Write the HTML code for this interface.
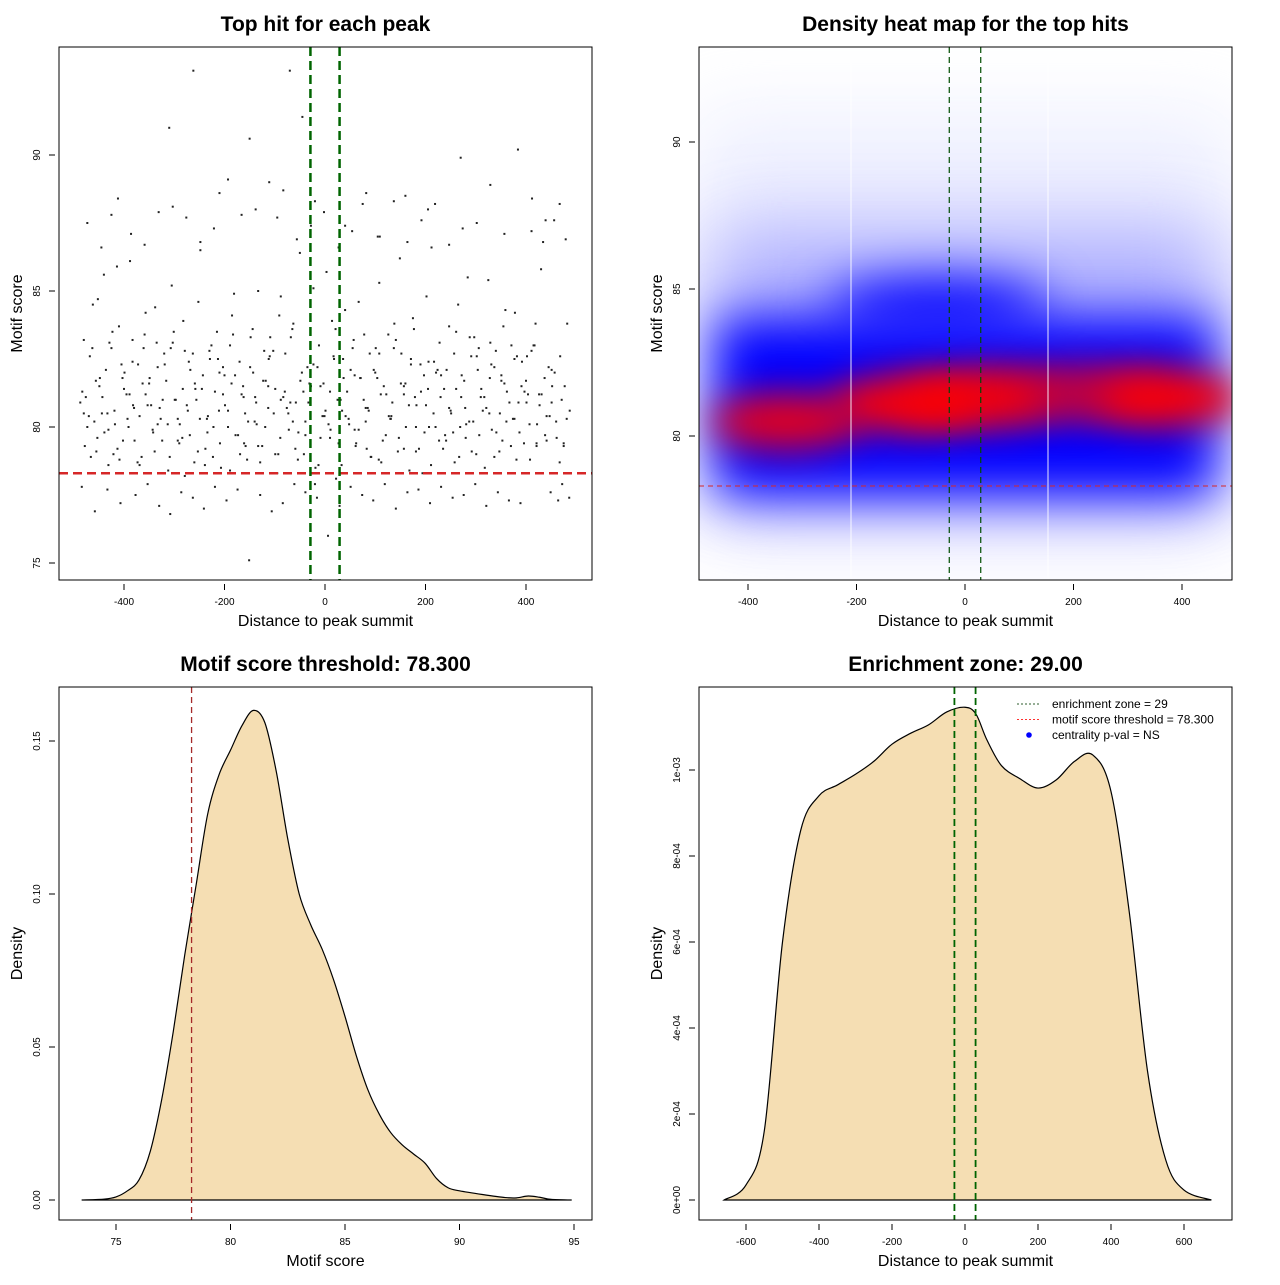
<!DOCTYPE html>
<html><head><meta charset="utf-8">
<style>
html,body{margin:0;padding:0;background:#fff;}
svg text{font-family:"Liberation Sans",Arial,sans-serif;}
</style></head>
<body>
<svg id="root" width="1280" height="1280" viewBox="0 0 1280 1280" xmlns="http://www.w3.org/2000/svg">
<defs>
<filter id="b40" filterUnits="userSpaceOnUse" x="500" y="-200" width="900" height="1000"><feGaussianBlur stdDeviation="40"/></filter>
<filter id="b25" filterUnits="userSpaceOnUse" x="500" y="-200" width="900" height="1000"><feGaussianBlur stdDeviation="25"/></filter>
<filter id="b18" filterUnits="userSpaceOnUse" x="500" y="-200" width="900" height="1000"><feGaussianBlur stdDeviation="18"/></filter>
<clipPath id="c2"><rect x="699" y="47" width="533" height="533"/></clipPath>
</defs>
</svg>
<script>
// ---------- DATA ----------
const scatterX=[-480,-470,-462,-455,-448,-440,-431,-425,-418,-410,-402,-395,-388,-380,-372,-365,-357,-350,-342,-335,-327,-320,-312,-305,-297,-290,-282,-275,-268,-260,-252,-245,-238,-230,-222,-215,-207,-200,-193,-185,-178,-170,-162,-155,-148,-140,-133,-125,-118,-110,-102,-95,-88,-80,-72,-65,-58,-50,-42,-35,-28,-20,-12,-5,3,10,18,25,33,40,48,55,62,70,78,85,92,100,108,115,122,130,138,145,152,160,168,175,182,190,198,205,212,220,228,235,242,250,258,265,272,280,288,295,302,310,318,325,332,340,348,355,362,370,378,385,392,400,408,415,422,430,438,445,452,460,468,475,482,
-476,-466,-452,-444,-436,-421,-414,-400,-391,-383,-369,-361,-346,-338,-324,-316,-301,-293,-279,-271,-256,-248,-234,-226,-211,-203,-189,-181,-166,-158,-144,-136,-121,-113,-99,-91,-76,-68,-54,-46,-31,-23,-9,-1,14,22,36,44,59,67,81,89,104,112,126,134,149,157,171,179,194,202,216,224,239,247,261,269,284,292,306,314,329,337,351,359,374,382,396,404,419,427,441,449,464,472,486,
-484,-458,-433,-407,-377,-353,-330,-308,-286,-263,-241,-219,-196,-174,-151,-129,-106,-84,-61,-39,-16,6,29,51,74,96,119,141,164,186,209,231,254,276,299,321,344,366,389,411,434,456,479,
-473,-445,-412,-386,-359,-331,-303,-276,-248,-221,-193,-166,-138,-111,-83,-56,-28,-2,27,54,82,109,137,164,192,219,247,274,302,329,357,384,412,439,467,
-425,-310,-262,-210,-150,-95,-70,-45,-20,40,75,105,160,205,270,330,390,415,455];
const scatterY=[83.2,80.4,84.5,79.1,81.8,85.6,78.6,82.9,80.1,83.7,79.5,81.2,86.1,80.7,82.3,78.9,84.2,81.6,79.8,83.1,80.3,82.7,78.4,85.2,81.0,79.4,83.9,80.8,82.1,78.7,84.6,81.4,79.2,82.8,80.0,83.5,78.5,81.9,80.6,84.1,79.7,82.4,81.1,78.8,83.3,80.2,85.0,79.3,81.7,82.6,80.5,78.3,84.8,81.3,79.9,83.6,80.9,86.4,79.0,82.2,81.5,77.9,83.0,80.4,85.7,79.6,82.5,81.0,78.6,84.3,80.1,82.9,79.4,81.8,83.4,80.7,78.9,82.0,85.3,79.5,81.2,80.3,83.8,79.1,82.7,81.6,78.4,84.0,80.8,82.3,79.8,81.4,86.6,80.0,83.1,79.2,82.1,80.6,78.7,84.5,81.9,79.6,83.3,80.2,82.6,81.1,78.5,85.4,79.9,82.8,80.5,83.7,81.3,79.3,84.2,80.9,82.4,81.7,78.8,83.0,80.1,85.8,79.7,82.2,81.5,
80.2,82.6,79.4,83.8,81.1,78.9,84.7,80.5,82.1,79.0,85.9,81.4,80.0,83.2,78.6,82.9,80.8,84.4,79.5,81.7,83.5,80.3,78.2,82.4,81.0,86.8,79.8,83.0,80.6,82.2,78.4,84.9,81.2,79.3,83.6,80.1,82.8,81.5,79.0,84.1,80.7,83.3,78.8,82.0,81.6,85.1,79.6,80.4,83.9,78.1,82.5,81.3,79.9,84.6,80.2,82.7,81.8,78.7,83.4,80.9,86.2,79.2,82.3,81.1,78.3,84.8,80.5,82.1,79.7,83.7,81.4,80.0,85.5,79.1,82.9,80.6,83.1,78.9,81.9,84.3,80.3,82.6,79.4,81.2,83.8,80.8,79.5,
77.6,77.3,77.9,77.4,77.8,76.9,77.7,77.2,77.5,77.9,77.1,76.8,77.6,77.4,77.0,77.8,77.3,77.7,75.1,77.5,76.9,77.2,77.9,77.6,77.4,76.0,77.1,77.8,77.5,77.3,77.9,77.0,77.6,77.7,77.2,77.8,77.4,77.5,77.9,77.1,77.6,77.3,77.2,
87.2,86.8,87.6,86.9,87.5,86.6,88.4,87.1,86.7,87.9,88.1,87.7,86.5,87.3,89.1,87.8,88.0,89.0,88.7,86.9,87.4,87.9,86.6,87.2,88.6,87.0,88.3,86.8,87.6,88.2,86.7,87.3,87.5,88.9,87.1,
90.2,88.4,87.6,88.2,87.8,91.0,93.1,88.6,90.6,87.7,93.1,91.4,88.3,87.4,88.2,87.0,88.5,88.0,89.9];
const denseX=[-487,-478,-468,-459,-449,-439,-429,-419,-409,-399,-389,-379,-369,-359,-349,-339,-329,-319,-309,-299,-289,-279,-269,-259,-249,-239,-229,-219,-209,-199,-189,-179,-169,-159,-149,-139,-129,-119,-109,-99,-89,-79,-69,-59,-49,-39,-29,-19,-9,1,11,21,31,41,51,61,71,81,91,101,111,121,131,141,151,161,171,181,191,201,211,221,231,241,251,261,271,281,291,301,311,321,331,341,351,361,371,381,391,401,411,421,431,441,451,461,471,481,
-483,-473,-463,-453,-443,-433,-423,-413,-403,-393,-383,-373,-363,-353,-343,-333,-323,-313,-303,-293,-283,-273,-263,-253,-243,-233,-223,-213,-203,-193,-183,-173,-163,-153,-143,-133,-123,-113,-103,-93,-83,-73,-63,-53,-43,-33,-23,-13,-3,7,17,27,37,47,57,67,77,87,97,107,117,127,137,147,157,167,177,187,197,207,217,227,237,247,257,267,277,287,297,307,317,327,337,347,357,367,377,387,397,407,417,421,437,447,457,467,477,487,
-480,-456,-431,-405,-382,-357,-333,-307,-284,-258,-235,-210,-186,-161,-137,-112,-88,-64,-39,-15,10,34,59,83,108,132,157,181,206,230,255,279,304,328,353,377,402,426,451,475];
const denseY=[80.9,79.3,82.6,80.2,81.5,79.8,83.1,80.6,78.8,82.0,81.2,79.5,80.4,83.4,81.8,79.1,80.7,82.3,78.9,81.0,80.1,82.8,79.7,81.6,80.3,78.6,82.5,81.3,79.4,80.8,83.0,81.9,79.0,80.5,82.2,81.1,78.7,80.0,83.3,81.4,79.6,82.7,80.9,79.2,81.7,80.2,82.4,78.5,81.5,80.6,79.9,83.6,81.0,80.4,82.1,79.3,81.8,80.7,78.9,82.9,81.2,79.7,80.3,83.2,81.6,80.0,82.5,79.1,81.3,80.8,78.6,82.0,81.9,79.5,80.5,83.5,81.1,80.1,82.6,79.0,81.4,80.7,82.3,79.8,81.7,80.2,83.0,78.8,81.5,80.9,82.8,79.4,81.2,80.4,82.1,79.6,81.0,80.3,
81.3,80.0,82.9,79.6,81.1,80.5,83.5,79.2,81.8,80.3,82.4,78.7,81.6,80.8,79.9,82.2,81.0,80.1,83.1,79.5,81.4,80.6,82.7,79.1,81.9,80.4,78.9,82.5,81.2,80.0,83.4,79.7,81.5,80.2,82.0,79.3,81.7,80.7,82.8,79.0,81.1,80.5,83.8,79.8,81.3,80.9,82.3,78.6,81.6,80.1,82.6,79.4,81.8,80.3,83.2,79.9,81.0,80.6,82.1,78.8,81.5,80.4,82.9,79.6,81.2,80.8,83.6,79.2,81.9,80.0,82.4,79.5,81.4,80.7,82.7,78.9,81.7,80.2,83.3,79.7,81.1,80.5,82.2,79.1,81.6,80.9,82.5,79.8,81.3,80.1,83.0,79.3,81.8,80.4,82.0,78.7,81.5,80.6,
80.5,81.7,79.9,82.3,80.8,81.2,80.1,82.9,79.6,81.4,80.3,82.0,81.6,79.4,80.9,82.5,81.0,80.2,79.7,82.2,81.3,80.6,81.9,79.2,82.7,80.4,81.5,80.0,82.4,81.1,79.8,80.7,82.1,81.8,79.5,80.3,82.6,81.2,80.9,79.3];
const heatX=[-330,-110,20,130,250,370];
const heatY=[80.5,81.1,81.3,81.4,81.5,81.3];
const heatW=[0.9,1.0,0.95,0.5,0.55,1.0];
const d3x=[73.5,74.5,75,75.5,76,76.5,77,77.5,78,78.5,79,79.5,80,80.5,81,81.5,82,82.5,83,83.5,84,84.5,85,85.5,86,86.5,87,87.5,88,88.5,89,89.5,90,91,92,92.5,93,93.5,94,94.9];
const d3y=[0,0.0003,0.001,0.003,0.0065,0.016,0.033,0.055,0.08,0.103,0.126,0.139,0.147,0.155,0.160,0.156,0.140,0.118,0.100,0.090,0.082,0.072,0.060,0.047,0.036,0.028,0.022,0.018,0.015,0.012,0.007,0.004,0.003,0.0018,0.0008,0.0007,0.0013,0.0009,0.0002,0];
const d4x=[-660,-600,-550,-500,-450,-400,-350,-300,-250,-200,-150,-100,-50,0,30,60,100,150,200,250,300,350,400,450,500,550,600,675];
const d4y=[0,0.35,1.6,6.0,8.6,9.4,9.65,9.9,10.2,10.6,10.85,11.05,11.35,11.46,11.3,10.7,10.1,9.8,9.58,9.77,10.2,10.35,9.5,6.7,3.0,0.93,0.23,0];
const p1xt=[-400,-200,0,200,400],p1yt=[75,80,85,90];
const p2xt=[-400,-200,0,200,400],p2yt=[80,85,90];
const p3xt=[75,80,85,90,95],p3yt=[0,0.05,0.10,0.15],p3yl=["0.00","0.05","0.10","0.15"];
const p4xt=[-600,-400,-200,0,200,400,600],p4yt=[0,2,4,6,8,10],p4yl=["0e+00","2e-04","4e-04","6e-04","8e-04","1e-03"];
const zone=29, thr=78.3;

// ---------- helpers ----------
const NS="http://www.w3.org/2000/svg";
const root=document.getElementById('root');
function mk(tag,attrs,parent){const e=document.createElementNS(NS,tag);for(const k in attrs)e.setAttribute(k,attrs[k]);(parent||root).appendChild(e);return e;}
function lin(d0,d1,r0,r1){return v=>r0+(v-d0)*(r1-r0)/(d1-d0);}
function smooth(P){let d='M'+P[0][0]+','+P[0][1];for(let i=0;i<P.length-1;i++){const p0=P[Math.max(i-1,0)],p1=P[i],p2=P[i+1],p3=P[Math.min(i+2,P.length-1)];
 const c1=[p1[0]+(p2[0]-p0[0])/6,p1[1]+(p2[1]-p0[1])/6],c2=[p2[0]-(p3[0]-p1[0])/6,p2[1]-(p3[1]-p1[1])/6];
 d+=` C${c1[0]},${c1[1]} ${c2[0]},${c2[1]} ${p2[0]},${p2[1]}`;}return d;}
function frame(x,y,w,h,title,xlab,ylab,name){
  const g=mk('g',{});
  
  
  const t=mk('text',{x:x+w/2,y:y-16,'text-anchor':'middle','font-size':21,'font-weight':'bold'},g);t.textContent=title;
  
  const xl=mk('text',{x:x+w/2,y:y+h+46,'text-anchor':'middle','font-size':16},g);xl.textContent=xlab;
  
  const yl=mk('text',{x:0,y:0,'text-anchor':'middle','font-size':16,transform:`translate(${x-37},${y+h/2}) rotate(-90)`},g);yl.textContent=ylab;
  
  return g;
}
function box(x,y,w,h,g){const r=mk('rect',{x,y,width:w,height:h,fill:'none',stroke:'#000','stroke-width':1},g);}
function xticks(vals,labs,sx,yb,g){vals.forEach((v,i)=>{const X=sx(v);mk('line',{x1:X,x2:X,y1:yb,y2:yb+6,stroke:'#000'},g);const t=mk('text',{x:X,y:yb+21,'text-anchor':'middle','font-size':10},g);t.textContent=labs?labs[i]:v;});}
function yticks(vals,labs,sy,xl,g){vals.forEach((v,i)=>{const Y=sy(v);mk('line',{x1:xl,x2:xl-6,y1:Y,y2:Y,stroke:'#000'},g);const t=mk('text',{x:0,y:0,'text-anchor':'middle','font-size':10,transform:`translate(${xl-15},${Y}) rotate(-90)`},g);t.textContent=labs?labs[i]:v;});}

// ---------- Panel 1 ----------
{const X0=59,Y0=47,W=533,H=533;
const g=frame(X0,Y0,W,H,'Top hit for each peak','Distance to peak summit','Motif score','scatter-panel');
const sx=lin(0,400,325,526), sy=lin(80,85,427,291);
const pts=mk('g',{},g);
function drawPts(xs,ys){const n=Math.min(xs.length,ys.length);for(let i=0;i<n;i++){const c=mk('rect',{x:sx(xs[i])-1,y:sy(ys[i])-1,width:2,height:2,fill:'#222'},pts);}}
drawPts(scatterX,scatterY);drawPts(denseX,denseY);
const h=mk('line',{x1:X0,x2:X0+W,y1:sy(thr),y2:sy(thr),stroke:'#d62728','stroke-width':2.5,'stroke-dasharray':'9,5'},g);
[-zone,zone].forEach(z=>{const l=mk('line',{x1:sx(z),x2:sx(z),y1:Y0,y2:Y0+H,stroke:'#006400','stroke-width':2.5,'stroke-dasharray':'9,5'},g);});
box(X0,Y0,W,H,g);xticks(p1xt,null,sx,Y0+H+4,g);yticks(p1yt,null,sy,X0-4,g);}

// ---------- Panel 2 ----------
{const X0=699,Y0=47,W=533,H=533;
const g=frame(X0,Y0,W,H,'Density heat map for the top hits','Distance to peak summit','Motif score','heatmap-panel');
const sx=lin(0,400,965,1182), sy=lin(80,85,436,289);
const hg=mk('g',{'clip-path':'url(#c2)'},g);
mk('rect',{x:sx(-500),y:sy(91),width:sx(500)-sx(-500),height:sy(78)-sy(91),fill:'#dde0ff',opacity:0.5,filter:'url(#b40)'},hg);
mk('rect',{x:sx(-470),y:sy(87),width:sx(470)-sx(-470),height:sy(77.3)-sy(87),fill:'#8f8fff',opacity:0.7,filter:'url(#b40)'},hg);
mk('rect',{x:sx(-460),y:sy(84),width:sx(460)-sx(-460),height:sy(78)-sy(84),fill:'#0000ff',filter:'url(#b25)'},hg);
mk('ellipse',{cx:sx(-50),cy:sy(84.5),rx:110,ry:25,fill:'#0000ff',filter:'url(#b25)'},hg);
for(let i=0;i<heatX.length;i++){const e=mk('ellipse',{cx:sx(heatX[i]),cy:sy(heatY[i]),rx:75,ry:28,fill:'#ff0000',opacity:heatW[i],filter:'url(#b18)'},hg);}
[851,1048].forEach(X=>mk('line',{x1:X,x2:X,y1:Y0,y2:Y0+H,stroke:'#fff','stroke-width':1,opacity:0.9},hg));
const h=mk('line',{x1:X0,x2:X0+W,y1:sy(thr),y2:sy(thr),stroke:'#d62728','stroke-width':1,'stroke-dasharray':'5,4'},g);
[-zone,zone].forEach(z=>{const l=mk('line',{x1:sx(z),x2:sx(z),y1:Y0,y2:Y0+H,stroke:'#004d00','stroke-width':1.2,'stroke-dasharray':'6,4'},g);});
box(X0,Y0,W,H,g);xticks(p2xt,null,sx,Y0+H+4,g);yticks(p2yt,null,sy,X0-4,g);}

// ---------- Panel 3 ----------
{const X0=59,Y0=687,W=533,H=533;
const g=frame(X0,Y0,W,H,'Motif score threshold: 78.300','Motif score','Density','score-density-panel');
const sx=lin(75,95,116,574), sy=lin(0,0.15,1200,741);
const d=smooth(d3x.map((v,i)=>[sx(v),sy(d3y[i])]))+' Z';
const p=mk('path',{d,fill:'#f5deb3',stroke:'#000','stroke-width':1.2},g);
const l=mk('line',{x1:sx(thr),x2:sx(thr),y1:Y0,y2:Y0+H,stroke:'#a52a2a','stroke-width':1.3,'stroke-dasharray':'6,4'},g);
box(X0,Y0,W,H,g);xticks(p3xt,null,sx,Y0+H+4,g);yticks(p3yt,p3yl,sy,X0-4,g);}

// ---------- Panel 4 ----------
{const X0=699,Y0=687,W=533,H=533;
const g=frame(X0,Y0,W,H,'Enrichment zone: 29.00','Distance to peak summit','Density','position-density-panel');
const sx=lin(0,400,965,1111), sy=lin(0,10,1200,770);
const d=smooth(d4x.map((v,i)=>[sx(v),sy(d4y[i])]))+' Z';
const p=mk('path',{d,fill:'#f5deb3',stroke:'#000','stroke-width':1.2},g);
[-zone,zone].forEach(z=>{const l=mk('line',{x1:sx(z),x2:sx(z),y1:Y0,y2:Y0+H,stroke:'#006400','stroke-width':1.8,'stroke-dasharray':'7,4'},g);});
box(X0,Y0,W,H,g);xticks(p4xt,null,sx,Y0+H+4,g);yticks(p4yt,p4yl,sy,X0-4,g);
const lg=mk('g',{},g);
const items=[['enrichment zone = 29','#2e5e2e'],['motif score threshold = 78.300','#ff3030'],['centrality p-val = NS','#0000ff']];
items.forEach((it,i)=>{const y=704+i*15.5;
 if(i<2)mk('line',{x1:1017,x2:1041,y1:y,y2:y,stroke:it[1],'stroke-width':1,'stroke-dasharray':'2,2'},lg);
 else mk('circle',{cx:1029,cy:y,r:2.8,fill:it[1]},lg);
 const t=mk('text',{x:1052,y:y+4,'font-size':12},lg);t.textContent=it[0];});}
</script>
</body></html>
